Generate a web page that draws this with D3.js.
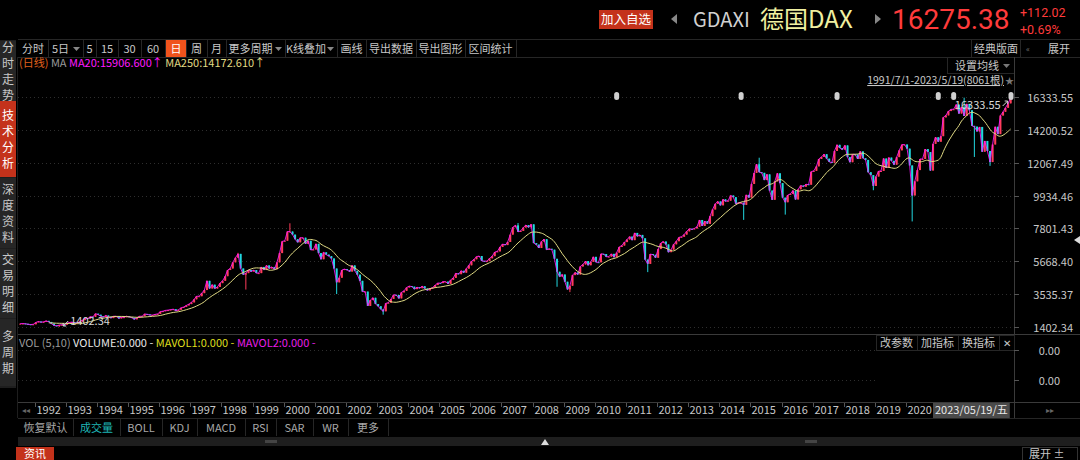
<!DOCTYPE html>
<html>
<head>
<meta charset="utf-8">
<title>GDAXI 德国DAX</title>
<script src="https://cdn.jsdelivr.net/npm/d3@7"></script>
<style>
  body { margin: 0; background: #000; }
  svg { display: block; font-family: "Noto Sans CJK SC", "Noto Sans", sans-serif; }
</style>
</head>
<body>
<script>
// monthly closes, starting 1991/07
var closes = [
  1620, 1630, 1610, 1580, 1560, 1578,                                   // 1991 H2
  1700, 1760, 1710, 1740, 1800, 1730, 1620, 1500, 1480, 1530, 1550, 1545, // 1992
  1650, 1700, 1720, 1650, 1680, 1750, 1850, 1980, 1950, 2070, 2060, 2267, // 1993
  2200, 2100, 2040, 2150, 2060, 1980, 2100, 2100, 1960, 2040, 2040, 2106, // 1994
  2050, 2000, 1900, 2000, 2100, 2100, 2250, 2220, 2180, 2180, 2220, 2254, // 1995
  2400, 2430, 2480, 2500, 2530, 2560, 2450, 2520, 2650, 2700, 2800, 2889, // 1996
  3000, 3200, 3400, 3400, 3600, 3800, 4400, 3900, 4150, 3900, 4000, 4250, // 1997
  4400, 4700, 5100, 5200, 5600, 5900, 6150, 5200, 4800, 4900, 5100, 5000, // 1998
  5100, 4900, 4900, 5300, 5100, 5400, 5200, 5300, 5150, 5600, 6200, 6958, // 1999
  7000, 7600, 7600, 7400, 7100, 6900, 7200, 7200, 6800, 7000, 6400, 6434, // 2000
  6800, 6200, 5800, 6250, 6100, 6000, 5850, 5200, 4300, 4600, 5100, 5160, // 2001
  5100, 5000, 5400, 5050, 4800, 4400, 3700, 3700, 2770, 3150, 3300, 2893, // 2002
  2750, 2550, 2420, 2940, 2980, 3220, 3490, 3480, 3260, 3650, 3750, 3965, // 2003
  4060, 4020, 3860, 3985, 3920, 4050, 3900, 3780, 3890, 3960, 4125, 4256, // 2004
  4250, 4350, 4350, 4200, 4460, 4590, 4890, 4830, 5050, 4930, 5190, 5408, // 2005
  5670, 5800, 5970, 6010, 5690, 5680, 5680, 5860, 6000, 6270, 6310, 6597, // 2006
  6790, 6720, 6920, 7400, 7880, 8000, 7580, 7640, 7860, 8020, 7870, 8067, // 2007
  6850, 6750, 6530, 6950, 7100, 6420, 6480, 6420, 5830, 4990, 4670, 4810, // 2008
  4340, 3840, 4080, 4770, 4940, 4810, 5330, 5460, 5680, 5410, 5630, 5957, // 2009
  5610, 5600, 6150, 6140, 5960, 5970, 6150, 5930, 6230, 6600, 6690, 6914, // 2010
  7080, 7270, 7040, 7510, 7290, 7380, 7160, 5780, 5500, 6140, 6090, 5898, // 2011
  6460, 6850, 6950, 6760, 6260, 6420, 6770, 6970, 7220, 7260, 7400, 7612, // 2012
  7780, 7740, 7800, 7910, 8350, 7960, 8280, 8100, 8600, 9030, 9400, 9552, // 2013
  9300, 9690, 9560, 9600, 9940, 9830, 9400, 9470, 9470, 9330, 9980, 9806, // 2014
  10690, 11400, 11970, 11450, 11410, 10940, 11310, 10260, 9660, 10850, 11380, 10743, // 2015
  9800, 9500, 9970, 10040, 10260, 9680, 10340, 10590, 10510, 10670, 10640, 11481,   // 2016
  11540, 11830, 12310, 12440, 12620, 12330, 12120, 12060, 12830, 13230, 13020, 12918, // 2017
  13190, 12430, 12100, 12610, 12600, 12310, 12800, 12360, 12250, 11450, 11260, 10559, // 2018
  11170, 11520, 11530, 12340, 11730, 12400, 12190, 11940, 12430, 12870, 13240, 13249, // 2019
  12980, 11890, 9940, 10860, 11590, 12310, 12310, 12950, 12760, 11560, 13290, 13719,  // 2020
  13430, 13790, 15010, 15140, 15420, 15530, 15540, 15840, 15260, 15690, 15100, 15885, // 2021
  15470, 14460, 14410, 14100, 14390, 12780, 13480, 12830, 12110, 13250, 14400, 13924, // 2022
  15130, 15370, 15630, 15920, 16275.38                                               // 2023
];
var startYear = 1991, startMonth = 6; // July (0-based)

// intramonth extremes that stick out of the monthly bodies
var spikes = [
  { m: "1992-10", low: 1402.34 },
  { m: "1998-07", high: 6217 },
  { m: "1998-10", low: 3833 },
  { m: "2000-03", high: 8136 },
  { m: "2001-09", low: 3540 },
  { m: "2003-03", low: 2203 },
  { m: "2007-07", high: 8151 },
  { m: "2008-10", low: 4014 },
  { m: "2009-03", low: 3666 },
  { m: "2011-09", low: 4965 },
  { m: "2014-10", low: 8355 },
  { m: "2015-04", high: 12391 },
  { m: "2016-02", low: 8699 },
  { m: "2018-12", low: 10280 },
  { m: "2020-03", low: 8256 },
  { m: "2021-11", high: 16290 },
  { m: "2022-03", low: 12439 },
  { m: "2022-09", low: 11863 },
  { m: "2023-05", high: 16333.55 }
];

// info markers along the top of the price panel
var markers = ["2010-09", "2014-09", "2017-10", "2021-01", "2021-07", "2023-05"];

var years = d3.range(1992, 2021);
var ma20Text = "MA20:15906.600\u2191";
var ma250Text = "MA250:14172.610\u2191";

var W = 1080, H = 460;
var svg = d3.select("body").append("svg").attr("width", W).attr("height", H);
svg.append("rect").attr("width", W).attr("height", H).attr("fill", "#000");

var parseM = d3.timeParse("%Y-%m");
var monthDate = function(i) { return new Date(startYear, startMonth + i, 15); };

// build candles
var spikeMap = {};
spikes.forEach(function(s) { spikeMap[s.m] = s; });
var bars = closes.map(function(c, i) {
  var d = monthDate(i);
  var o = i === 0 ? c : closes[i - 1];
  var key = d3.timeFormat("%Y-%m")(d);
  var s = spikeMap[key] || {};
  return {
    date: d, open: o, close: c,
    high: Math.max(o, c, s.high || 0),
    low: Math.min(o, c, s.low || Infinity)
  };
});
var ma250 = bars.map(function(b, i) {
  if (i < 11) return null;
  return { date: b.date, v: d3.mean(closes.slice(i - 11, i + 1)) };
}).filter(Boolean);

var lo = d3.min(bars, function(d) { return d.low; });
var hi = d3.max(bars, function(d) { return d.high; });

var plotL = 18, plotR = 1014;
var x = d3.scaleTime()
  .domain([new Date(1991, 6, 1), new Date(2023, 4, 19)])
  .range([plotL + 1, 1011]);
var y = d3.scaleLinear().domain([lo, hi]).range([327, 97]);
var yTicks = d3.range(8).map(function(i) { return lo + i * (hi - lo) / 7; });

var txtColor = "#c8c8c8";
var fs = 11;

// ---------- top bar ----------
svg.append("rect").attr("x", 599).attr("y", 10).attr("width", 54).attr("height", 19).attr("fill", "#c4321b");
svg.append("text").attr("x", 626).attr("y", 24).attr("text-anchor", "middle")
  .attr("font-size", 12.5).attr("fill", "#fff").text("加入自选");
svg.append("path").attr("d", "M671,19 l6,-5 v10 z").attr("fill", "#888");
svg.append("text").attr("x", 693).attr("y", 27).attr("font-size", 20).attr("fill", "#d0d0d0").text("GDAXI");
svg.append("text").attr("x", 760).attr("y", 28).attr("font-size", 24).attr("fill", "#f0f0a0").text("德国DAX");
svg.append("path").attr("d", "M875,14 l6,5 l-6,5 z").attr("fill", "#888");
svg.append("text").attr("x", 892).attr("y", 29).attr("font-family", "Roboto, sans-serif")
  .attr("font-size", 28).attr("fill", "#ff3b3b").text("16275.38");
svg.append("text").attr("x", 1020).attr("y", 17).attr("font-family", "Roboto, sans-serif")
  .attr("font-size", 12.5).attr("fill", "#ff3b3b").text("+112.02");
svg.append("text").attr("x", 1020).attr("y", 34).attr("font-family", "Roboto, sans-serif")
  .attr("font-size", 12.5).attr("fill", "#ff3b3b").text("+0.69%");

// ---------- toolbar ----------
svg.append("line").attr("x1", 18).attr("x2", W).attr("y1", 39.5).attr("y2", 39.5).attr("stroke", "#262626");
svg.append("line").attr("x1", 18).attr("x2", W).attr("y1", 57.5).attr("y2", 57.5).attr("stroke", "#262626");
var tools = [
  { t: "分时", x0: 18, x1: 48 }, { t: "5日", x0: 48, x1: 83, dd: true }, { t: "5", x0: 83, x1: 96 },
  { t: "15", x0: 96, x1: 118 }, { t: "30", x0: 118, x1: 141 }, { t: "60", x0: 141, x1: 165 },
  { t: "日", x0: 166, x1: 186, on: true }, { t: "周", x0: 186, x1: 207 }, { t: "月", x0: 207, x1: 226 },
  { t: "更多周期", x0: 226, x1: 285, dd: true }, { t: "K线叠加", x0: 285, x1: 337, dd: true },
  { t: "画线", x0: 337, x1: 366 }, { t: "导出数据", x0: 366, x1: 416 }, { t: "导出图形", x0: 416, x1: 465 },
  { t: "区间统计", x0: 465, x1: 516 }
];
tools.forEach(function(d) {
  if (d.on) svg.append("rect").attr("x", d.x0).attr("y", 40).attr("width", d.x1 - d.x0).attr("height", 17).attr("fill", "#f0531c");
  svg.append("line").attr("x1", d.x1 + 0.5).attr("x2", d.x1 + 0.5).attr("y1", 40).attr("y2", 57).attr("stroke", "#262626");
  var cx = d.dd ? (d.x0 + d.x1) / 2 - 5 : (d.x0 + d.x1) / 2;
  svg.append("text").attr("x", cx).attr("y", 53).attr("text-anchor", "middle")
    .attr("font-size", fs).attr("fill", d.on ? "#fff" : txtColor).text(d.t);
  if (d.dd) svg.append("path").attr("d", "M" + (d.x1 - 10) + ",47 h7 l-3.5,4 z").attr("fill", "#888");
});
svg.append("line").attr("x1", 971.5).attr("x2", 971.5).attr("y1", 40).attr("y2", 57).attr("stroke", "#262626");
svg.append("line").attr("x1", 1020.5).attr("x2", 1020.5).attr("y1", 40).attr("y2", 57).attr("stroke", "#262626");
svg.append("text").attr("x", 996).attr("y", 53).attr("text-anchor", "middle").attr("font-size", fs).attr("fill", txtColor).text("经典版面");
svg.append("text").attr("x", 1026).attr("y", 52).attr("font-size", 8).attr("fill", "#777").text("\u00ab");
svg.append("text").attr("x", 1048).attr("y", 53).attr("font-size", fs).attr("fill", txtColor).text("展开");

// ---------- left sidebar ----------
svg.append("rect").attr("x", 0).attr("y", 40).attr("width", 16).attr("height", 348).attr("fill", "#1e1e1e");
var tabs = [
  { t: "分时走势", y0: 41, y1: 101 }, { t: "技术分析", y0: 101, y1: 177, on: true },
  { t: "深度资料", y0: 178, y1: 248 }, { t: "交易明细", y0: 249, y1: 318 }, { t: "多周期", y0: 319, y1: 386 }
];
tabs.forEach(function(d) {
  svg.append("rect").attr("x", 0).attr("y", d.y0).attr("width", 16).attr("height", d.y1 - d.y0)
    .attr("fill", d.on ? "#c4321b" : "#262626");
  var chars = d.t.split("");
  var step = 16, top = (d.y0 + d.y1) / 2 - (chars.length - 1) * step / 2;
  chars.forEach(function(c, i) {
    svg.append("text").attr("x", 8).attr("y", top + i * step + 4.5).attr("text-anchor", "middle")
      .attr("font-size", 12).attr("fill", d.on ? "#fff" : txtColor).text(c);
  });
});

// ---------- price panel ----------
svg.append("line").attr("x1", plotR + 0.5).attr("x2", plotR + 0.5).attr("y1", 57).attr("y2", 418).attr("stroke", "#3a3a3a");
svg.append("line").attr("x1", 17.5).attr("x2", 17.5).attr("y1", 57).attr("y2", 418).attr("stroke", "#1e1e1e");

var grid = svg.append("g");
yTicks.forEach(function(v) {
  var yy = Math.round(y(v)) + 0.5;
  grid.append("line").attr("x1", plotL).attr("x2", plotR).attr("y1", yy).attr("y2", yy)
    .attr("stroke", "#2e2e2e").attr("stroke-dasharray", "1,3");
  grid.append("line").attr("x1", plotR).attr("x2", plotR + 5).attr("y1", yy).attr("y2", yy).attr("stroke", "#555");
  grid.append("text").attr("x", 1073).attr("y", yy + 4).attr("text-anchor", "end")
    .attr("font-size", fs).attr("fill", txtColor).text(v.toFixed(2));
});

// candles
var bw = 2;
var upC = "#ff3c5a", dnC = "#22d8e0";
var cg = svg.append("g");
cg.selectAll("line.wick").data(bars).join("line")
  .attr("x1", function(d) { return x(d.date); }).attr("x2", function(d) { return x(d.date); })
  .attr("y1", function(d) { return y(d.high); }).attr("y2", function(d) { return y(d.low); })
  .attr("stroke", function(d) { return d.close >= d.open ? upC : dnC; }).attr("stroke-width", 1);
cg.selectAll("rect").data(bars).join("rect")
  .attr("x", function(d) { return x(d.date) - bw / 2; })
  .attr("y", function(d) { return y(Math.max(d.open, d.close)); })
  .attr("width", bw)
  .attr("height", function(d) { return Math.max(1, Math.abs(y(d.open) - y(d.close))); })
  .attr("fill", function(d) { return d.close >= d.open ? upC : dnC; });

// MA20 (magenta) and MA250 (yellow)
svg.append("path").datum(bars)
  .attr("d", d3.line().x(function(d) { return x(d.date); }).y(function(d) { return y(d.close); }))
  .attr("fill", "none").attr("stroke", "#ff1aff").attr("stroke-width", 1).attr("opacity", 0.85);
svg.append("path").datum(ma250)
  .attr("d", d3.line().curve(d3.curveBasis).x(function(d) { return x(d.date); }).y(function(d) { return y(d.v); }))
  .attr("fill", "none").attr("stroke", "#e0da84").attr("stroke-width", 1);

// info markers
markers.forEach(function(m) {
  var xx = x(d3.timeDay.offset(parseM(m), 14));
  if (m === "2023-05") xx = x.range()[1];
  svg.append("rect").attr("x", xx - 2.5).attr("y", 92).attr("width", 5).attr("height", 8).attr("rx", 2.5)
    .attr("fill", "#d0d0d0");
});

// high / low labels
var hiBar = bars.find(function(d) { return d.high === hi; });
var loBar = bars.find(function(d) { return d.low === lo; });
svg.append("text").attr("x", x(hiBar.date) - 10).attr("y", y(hi) + 12).attr("text-anchor", "end")
  .attr("font-size", fs).attr("fill", "#d8d8d8").text(hi.toFixed(2));
svg.append("path").attr("d", "M" + (x(hiBar.date) - 8) + "," + (y(hi) + 9) + " l5,-5 m-3,0 h3 v3")
  .attr("stroke", "#d8d8d8").attr("fill", "none");
svg.append("path").attr("d", "M" + (x(loBar.date) + 9) + "," + (y(lo) - 6) + " l-5,5 m0,-3 v3 h3")
  .attr("stroke", "#d8d8d8").attr("fill", "none");
svg.append("text").attr("x", x(loBar.date) + 11).attr("y", y(lo) - 2)
  .attr("font-size", fs).attr("fill", "#d8d8d8").text(lo.toFixed(2));

// MA legend
var leg = svg.append("text").attr("x", 19).attr("y", 67).attr("font-size", fs);
leg.append("tspan").attr("fill", "#e0601c").text("(日线) ");
leg.append("tspan").attr("fill", "#9a9a9a").text("MA ");
leg.append("tspan").attr("fill", "#ff1aff").text(ma20Text + " ");
leg.append("tspan").attr("fill", "#e0da84").text(ma250Text);

// 设置均线 / range info
svg.append("line").attr("x1", 947).attr("x2", plotR).attr("y1", 73.5).attr("y2", 73.5).attr("stroke", "#262626");
svg.append("line").attr("x1", 947.5).attr("x2", 947.5).attr("y1", 58).attr("y2", 73).attr("stroke", "#262626");
svg.append("text").attr("x", 955).attr("y", 70).attr("font-size", fs).attr("fill", txtColor).text("设置均线");
svg.append("path").attr("d", "M1003,64 h7 l-3.5,4 z").attr("fill", "#777");
svg.append("text").attr("x", 1004).attr("y", 84).attr("text-anchor", "end").attr("font-size", 10.5).attr("fill", txtColor)
  .attr("text-decoration", "underline").text("1991/7/1-2023/5/19(8061根)");
svg.append("text").attr("x", 1005).attr("y", 84).attr("font-size", 9).attr("fill", "#777").text("\u2605");

// right edge handle
svg.append("path").attr("d", "M1080,236 l-6,4 l6,4 z").attr("fill", "#ddd");

// ---------- volume panel ----------
svg.append("line").attr("x1", plotL).attr("x2", W).attr("y1", 334.5).attr("y2", 334.5).attr("stroke", "#3a3a3a");
var vl = svg.append("text").attr("x", 19).attr("y", 347).attr("font-size", fs);
vl.append("tspan").attr("fill", "#9a9a9a").text("VOL (5,10) ");
vl.append("tspan").attr("fill", "#e8e8e8").text("VOLUME:0.000 -  ");
vl.append("tspan").attr("fill", "#dede1e").text("MAVOL1:0.000 -  ");
vl.append("tspan").attr("fill", "#e81ee8").text("MAVOL2:0.000 -");
[{ t: "改参数", x0: 876, x1: 917 }, { t: "加指标", x0: 917, x1: 958 }, { t: "换指标", x0: 958, x1: 999 }, { t: "\u2715", x0: 999, x1: 1014 }]
  .forEach(function(d) {
    svg.append("rect").attr("x", d.x0 + 0.5).attr("y", 335.5).attr("width", d.x1 - d.x0).attr("height", 15)
      .attr("fill", "none").attr("stroke", "#262626");
    svg.append("text").attr("x", (d.x0 + d.x1) / 2).attr("y", 347).attr("text-anchor", "middle")
      .attr("font-size", d.t === "\u2715" ? 10 : fs).attr("fill", txtColor).text(d.t);
  });
[350.5, 380.5].forEach(function(yy) {
  svg.append("line").attr("x1", plotL).attr("x2", 876).attr("y1", yy).attr("y2", yy)
    .attr("stroke", "#2e2e2e").attr("stroke-dasharray", "1,3");
  svg.append("line").attr("x1", plotR).attr("x2", plotR + 5).attr("y1", yy).attr("y2", yy).attr("stroke", "#555");
  svg.append("text").attr("x", 1060).attr("y", yy + 4).attr("text-anchor", "end")
    .attr("font-size", fs).attr("fill", txtColor).text("0.00");
});

// ---------- date axis ----------
svg.append("line").attr("x1", plotL).attr("x2", W).attr("y1", 402.5).attr("y2", 402.5).attr("stroke", "#3a3a3a");
svg.append("text").attr("x", 22).attr("y", 413).attr("font-size", 8).attr("fill", "#666").text("\u25c2\u25c2");
var lastLabelEnd = 0;
years.forEach(function(yr) {
  var xx = Math.round(x(new Date(yr, 0, 2))) + 0.5;
  svg.append("line").attr("x1", xx).attr("x2", xx).attr("y1", 403).attr("y2", 407).attr("stroke", "#555");
  var t = svg.append("text").attr("x", xx + 1).attr("y", 414).attr("font-size", fs).attr("fill", txtColor).text(yr);
  lastLabelEnd = xx + 1 + t.node().getComputedTextLength();
});
var cur = svg.append("g").attr("transform", "translate(" + Math.round(lastLabelEnd + 1) + ",0)");
var curRect = cur.append("rect").attr("y", 403).attr("height", 16).attr("fill", "#4a4a4a");
var curText = cur.append("text").attr("x", 2).attr("y", 414).attr("font-size", fs).attr("fill", "#e8e8e8").text("2023/05/19/五");
curRect.attr("width", curText.node().getComputedTextLength() + 4);
svg.append("text").attr("x", 1046).attr("y", 413).attr("font-size", 8).attr("fill", "#666").text("\u25b8\u25b8");

// ---------- indicator tabs ----------
svg.append("line").attr("x1", plotL).attr("x2", W).attr("y1", 418.5).attr("y2", 418.5).attr("stroke", "#262626");
var itabs = [
  { t: "恢复默认", x0: 18, x1: 73 }, { t: "成交量", x0: 73, x1: 120, on: true }, { t: "BOLL", x0: 120, x1: 162 },
  { t: "KDJ", x0: 162, x1: 197 }, { t: "MACD", x0: 197, x1: 245 }, { t: "RSI", x0: 245, x1: 276 },
  { t: "SAR", x0: 276, x1: 313 }, { t: "WR", x0: 313, x1: 348 }, { t: "更多", x0: 348, x1: 388 }
];
itabs.forEach(function(d) {
  svg.append("line").attr("x1", d.x1 + 0.5).attr("x2", d.x1 + 0.5).attr("y1", 419).attr("y2", 436).attr("stroke", "#262626");
  svg.append("text").attr("x", (d.x0 + d.x1) / 2).attr("y", 432).attr("text-anchor", "middle")
    .attr("font-size", fs).attr("fill", d.on ? "#1eb4b4" : "#a8a8a8").text(d.t);
});

// scrollbar strip
svg.append("rect").attr("x", plotL).attr("y", 437).attr("width", W - plotL).attr("height", 9).attr("fill", "#1e1e1e");
svg.append("path").attr("d", "M541,445 l4,-6 l4,6 z").attr("fill", "#ddd");
svg.append("rect").attr("x", 265).attr("y", 440).attr("width", 12).attr("height", 3).attr("fill", "#444");
svg.append("rect").attr("x", 805).attr("y", 440).attr("width", 12).attr("height", 3).attr("fill", "#444");

// bottom
svg.append("rect").attr("x", 16).attr("y", 447).attr("width", 38).attr("height", 13).attr("fill", "#c4321b");
svg.append("text").attr("x", 35).attr("y", 458).attr("text-anchor", "middle").attr("font-size", fs).attr("fill", "#fff").text("资讯");
svg.append("rect").attr("x", 1022.5).attr("y", 447.5).attr("width", 55).attr("height", 14).attr("fill", "none").attr("stroke", "#333");
svg.append("text").attr("x", 1029).attr("y", 458).attr("font-size", fs).attr("fill", txtColor).text("展开 \u00b1");
</script>
</body>
</html>
